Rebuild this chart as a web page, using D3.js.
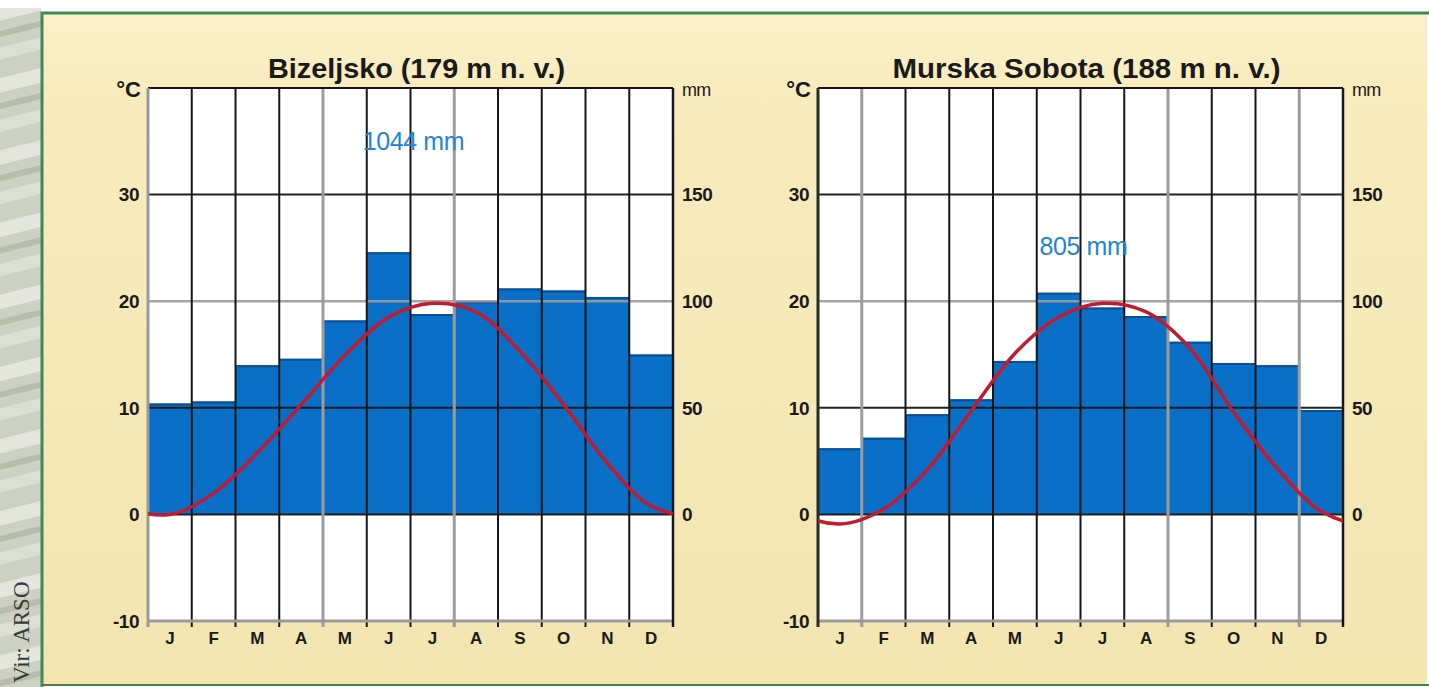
<!DOCTYPE html>
<html>
<head>
<meta charset="utf-8">
<script src="https://cdn.jsdelivr.net/npm/d3@7"></script>
<style>
  body { margin: 0; background: #fff; }
  svg { display: block; }
</style>
</head>
<body>
<svg width="1429" height="687"></svg>
<script>
// monthly data
var months = ["J", "F", "M", "A", "M", "J", "J", "A", "S", "O", "N", "D"];

var bizeljskoPrecip = [52, 53, 70, 73, 91, 123, 94, 100, 106, 105, 102, 75];
var bizeljskoTemp = [0.0, 2.0, 5.8, 10.3, 14.9, 18.5, 19.8, 19.0, 15.3, 10.3, 4.8, 0.8];

var sobotaPrecip = [31, 36, 47, 54, 72, 104, 97, 93, 81, 71, 70, 49];
var sobotaTemp = [-0.9, 0.5, 4.2, 9.7, 15.1, 18.5, 19.8, 19.0, 15.6, 9.6, 4.3, 0.3];

var tempTicks = [-10, 0, 10, 20, 30];
var mmTicks = [0, 50, 100, 150];

var svg = d3.select("svg"),
    width = +svg.attr("width"),
    height = +svg.attr("height");

var defs = svg.append("defs");

// background panel gradient
var grad = defs.append("linearGradient")
    .attr("id", "panelGrad")
    .attr("x1", 0).attr("y1", 0).attr("x2", 0).attr("y2", 1);
grad.append("stop").attr("offset", "0%").attr("stop-color", "#fcf0c8");
grad.append("stop").attr("offset", "12%").attr("stop-color", "#f9ebbd");
grad.append("stop").attr("offset", "100%").attr("stop-color", "#f3e4b0");

// streaky texture for the strip on the left
var pat = defs.append("pattern")
    .attr("id", "strip")
    .attr("patternUnits", "userSpaceOnUse")
    .attr("width", 40).attr("height", 70)
    .attr("patternTransform", "rotate(-14)");
pat.append("rect").attr("width", 40).attr("height", 70).attr("fill", "#cdd1c4");
pat.append("rect").attr("y", 6).attr("width", 40).attr("height", 14).attr("fill", "#e4e6de");
pat.append("rect").attr("y", 30).attr("width", 40).attr("height", 6).attr("fill", "#b6bda8");
pat.append("rect").attr("y", 46).attr("width", 40).attr("height", 12).attr("fill", "#dcdfd3");

svg.append("rect")
    .attr("x", 0).attr("y", 8)
    .attr("width", 41).attr("height", height - 8)
    .attr("fill", "url(#strip)");

svg.append("text")
    .attr("transform", "translate(29,683) rotate(-90)")
    .attr("font-family", "Liberation Serif, serif")
    .attr("font-size", 23)
    .attr("fill", "#3a3a3a")
    .text("Vir: ARSO");

// panel + green frame
svg.append("rect")
    .attr("x", 42).attr("y", 13)
    .attr("width", width - 44).attr("height", height - 15)
    .attr("fill", "url(#panelGrad)");

svg.append("path")
    .attr("d", "M42," + height + "V13H" + width)
    .attr("fill", "none")
    .attr("stroke", "#3d8a58")
    .attr("stroke-width", 3);
svg.append("line")
    .attr("x1", 42).attr("x2", width)
    .attr("y1", height - 2).attr("y2", height - 2)
    .attr("stroke", "#4f7a4a").attr("stroke-width", 2);

function drawChart(opts) {
    var x0 = opts.x0, top = 88, bottom = 621, w = 525;

    var x = d3.scaleBand()
        .domain(d3.range(months.length))
        .range([x0, x0 + w])
        .padding(0);

    var yT = d3.scaleLinear().domain([-10, 40]).range([bottom, top]);
    var yP = d3.scaleLinear().domain([-50, 200]).range([bottom, top]);

    var g = svg.append("g");

    g.append("rect")
        .attr("x", x0).attr("y", top)
        .attr("width", w).attr("height", bottom - top)
        .attr("fill", "#ffffff");

    // precipitation bars
    g.selectAll(".bar")
        .data(opts.precip)
        .enter().append("rect")
            .attr("class", "bar")
            .attr("x", function(d, i) { return x(i); })
            .attr("y", function(d) { return yP(d); })
            .attr("width", x.bandwidth())
            .attr("height", function(d) { return yP(0) - yP(d); })
            .attr("fill", "#0a6fc6");

    g.selectAll(".bartop")
        .data(opts.precip)
        .enter().append("line")
            .attr("class", "bartop")
            .attr("x1", function(d, i) { return x(i); })
            .attr("x2", function(d, i) { return x(i) + x.bandwidth(); })
            .attr("y1", function(d) { return yP(d) + 1; })
            .attr("y2", function(d) { return yP(d) + 1; })
            .attr("stroke", "#0b4f95")
            .attr("stroke-width", 2);

    // horizontal grid
    g.selectAll(".hgrid")
        .data([0, 10, 20, 30])
        .enter().append("line")
            .attr("class", "hgrid")
            .attr("x1", x0).attr("x2", x0 + w)
            .attr("y1", function(d) { return yT(d); })
            .attr("y2", function(d) { return yT(d); })
            .attr("stroke", function(d) { return d == 20 ? "#9a9a9a" : "#161616"; })
            .attr("stroke-opacity", function(d) { return d == 20 ? 0.9 : 0.95; })
            .attr("stroke-width", function(d) { return d == 20 ? 2.5 : 2; });

    // vertical month dividers
    g.selectAll(".vgrid")
        .data(d3.range(1, months.length))
        .enter().append("line")
            .attr("class", "vgrid")
            .attr("x1", function(d) { return x(d); })
            .attr("x2", function(d) { return x(d); })
            .attr("y1", top).attr("y2", bottom + 6)
            .attr("stroke", function(d) { return opts.greyLines.indexOf(d) >= 0 ? "#9c9c9c" : "#161616"; })
            .attr("stroke-width", function(d) { return opts.greyLines.indexOf(d) >= 0 ? 3 : 2; });

    // frame
    g.append("line")
        .attr("x1", x0).attr("x2", x0 + w).attr("y1", top).attr("y2", top)
        .attr("stroke", "#161616").attr("stroke-width", 2);
    g.append("line")
        .attr("x1", x0).attr("x2", x0 + w).attr("y1", bottom).attr("y2", bottom)
        .attr("stroke", "#9a9a9a").attr("stroke-width", 3);
    g.append("line")
        .attr("x1", x0).attr("x2", x0).attr("y1", top).attr("y2", bottom + 6)
        .attr("stroke", opts.leftGrey ? "#9a9a9a" : "#2a2a2a").attr("stroke-width", 3);
    g.append("line")
        .attr("x1", x0 + w).attr("x2", x0 + w).attr("y1", top).attr("y2", bottom + 6)
        .attr("stroke", "#161616").attr("stroke-width", 2.5);

    // temperature curve, continued cyclically past both ends and clipped
    var clipId = "clip" + opts.id;
    defs.append("clipPath").attr("id", clipId)
        .append("rect")
            .attr("x", x0).attr("y", top)
            .attr("width", w).attr("height", bottom - top);

    var n = opts.temp.length;
    var pts = d3.range(-2, n + 2).map(function(i) {
        return { i: i, t: opts.temp[(i + n) % n] };
    });

    var line = d3.line()
        .x(function(d) { return x0 + (d.i + 0.5) * x.bandwidth(); })
        .y(function(d) { return yT(d.t); })
        .curve(d3.curveCatmullRom.alpha(0.5));

    g.append("path")
        .datum(pts)
        .attr("clip-path", "url(#" + clipId + ")")
        .attr("d", line)
        .attr("fill", "none")
        .attr("stroke", "#c21a2e")
        .attr("stroke-width", 3.5);

    // axis labels
    var lab = svg.append("g")
        .attr("font-family", "Liberation Sans, Arial, sans-serif")
        .attr("fill", "#1a1a1a");

    lab.selectAll(".tt")
        .data(tempTicks)
        .enter().append("text")
            .attr("x", x0 - 9)
            .attr("y", function(d) { return yT(d); })
            .attr("dy", "0.36em")
            .attr("text-anchor", "end")
            .attr("font-size", 19)
            .attr("font-weight", "bold")
            .attr("letter-spacing", -0.5)
            .text(function(d) { return d; });

    lab.selectAll(".mt")
        .data(mmTicks)
        .enter().append("text")
            .attr("x", x0 + w + 9)
            .attr("y", function(d) { return yP(d); })
            .attr("dy", "0.36em")
            .attr("font-size", 19)
            .attr("font-weight", "bold")
            .attr("letter-spacing", -0.5)
            .text(function(d) { return d; });

    lab.append("text")
        .attr("x", x0 - 7).attr("y", top + 9)
        .attr("text-anchor", "end")
        .attr("font-size", 22)
        .attr("font-weight", "bold")
        .text("°C");

    lab.append("text")
        .attr("x", x0 + w + 9).attr("y", top + 8)
        .attr("font-size", 18)
        .attr("letter-spacing", -0.8)
        .text("mm");

    lab.selectAll(".mon")
        .data(months)
        .enter().append("text")
            .attr("x", function(d, i) { return x(i) + x.bandwidth() / 2; })
            .attr("y", bottom + 23)
            .attr("text-anchor", "middle")
            .attr("font-size", 17)
            .attr("font-weight", "bold")
            .text(function(d) { return d; });

    // title and annual total
    lab.append("text")
        .attr("x", x0 + w / 2 + 6).attr("y", 78)
        .attr("text-anchor", "middle")
        .attr("font-size", 27)
        .attr("font-weight", "bold")
        .attr("textLength", opts.titleLen)
        .attr("lengthAdjust", "spacingAndGlyphs")
        .text(opts.title);

    lab.append("text")
        .attr("x", x0 + opts.totalAt.i * x.bandwidth() + 3)
        .attr("y", yT(opts.totalAt.t))
        .attr("text-anchor", "middle")
        .attr("font-size", 25)
        .attr("fill", "#1f86d6")
        .attr("letter-spacing", -0.4)
        .text(d3.sum(opts.precip) + " mm");
}

drawChart({
    id: "a", x0: 148,
    title: "Bizeljsko (179 m n. v.)", titleLen: 297,
    precip: bizeljskoPrecip, temp: bizeljskoTemp,
    greyLines: [4, 7], leftGrey: true,
    totalAt: { i: 6, t: 34.2 }
});

drawChart({
    id: "b", x0: 818,
    title: "Murska Sobota (188 m n. v.)", titleLen: 388,
    precip: sobotaPrecip, temp: sobotaTemp,
    greyLines: [1, 8, 11], leftGrey: false,
    totalAt: { i: 6, t: 24.3 }
});
</script>
</body>
</html>
